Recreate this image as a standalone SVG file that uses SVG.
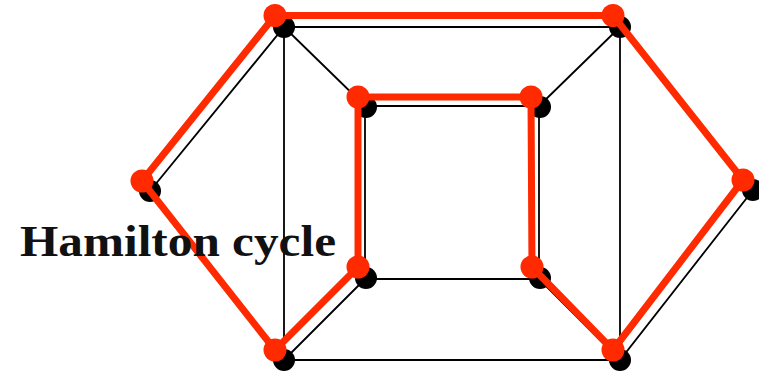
<svg xmlns="http://www.w3.org/2000/svg" width="759" height="372" viewBox="0 0 759 372">
<style>
.e{stroke:#000;stroke-width:1.8;fill:none;stroke-linecap:round}
.v{fill:#000}
.r{stroke:#ff2a00;stroke-width:7;fill:none;stroke-linejoin:round}
.rv{fill:#ff2a00}
.t{font-family:"Liberation Serif","DejaVu Serif",serif;font-weight:bold;font-size:44px;fill:#111}
</style>
<rect width="759" height="372" fill="#fff"/>
<g id="connectors">
<path class="e" d="M284,27 L620,27 L753,190 L620,360 L284,360 L150,191 Z"/>
<path class="e" d="M284,27 L284,360 M620,27 L620,360"/>
<path class="e" d="M365,106 L539,106 L539,279 L365,279 Z"/>
<path class="e" d="M284,27 L365,106 M620,27 L539,106 M284,360 L365,279 M620,360 L539,279"/>
</g>
<g id="nodes">
<g id="A"><circle class="v" cx="284" cy="27" r="11"/></g>
<g id="B"><circle class="v" cx="620" cy="27" r="11"/></g>
<g id="C"><circle class="v" cx="150" cy="191" r="11"/></g>
<g id="D"><circle class="v" cx="753" cy="190" r="11"/></g>
<g id="E"><circle class="v" cx="366" cy="107" r="11"/></g>
<g id="F"><circle class="v" cx="540" cy="107" r="11"/></g>
<g id="G"><circle class="v" cx="366" cy="278" r="11"/></g>
<g id="H"><circle class="v" cx="540" cy="278" r="11"/></g>
<g id="I"><circle class="v" cx="284" cy="360" r="11"/></g>
<g id="J"><circle class="v" cx="620" cy="360" r="11"/></g>
</g>
<g id="cycle">
<path class="r" d="M275,15.5 L613,15.5 L743,180 L613,350 L532,267 L531,97 L358,97 L358,267 L275,350 L142,181 Z"/>
<circle class="rv" cx="275" cy="15.5" r="11.5"/>
<circle class="rv" cx="613" cy="15.5" r="11.5"/>
<circle class="rv" cx="743" cy="180" r="11.5"/>
<circle class="rv" cx="613" cy="350" r="11.5"/>
<circle class="rv" cx="532" cy="267" r="11.5"/>
<circle class="rv" cx="531" cy="97" r="11.5"/>
<circle class="rv" cx="358" cy="97" r="11.5"/>
<circle class="rv" cx="358" cy="267" r="11.5"/>
<circle class="rv" cx="275" cy="350" r="11.5"/>
<circle class="rv" cx="142" cy="181" r="11.5"/>
</g>
<text class="t" x="20" y="256" textLength="316" lengthAdjust="spacingAndGlyphs">Hamilton cycle</text>
</svg>
